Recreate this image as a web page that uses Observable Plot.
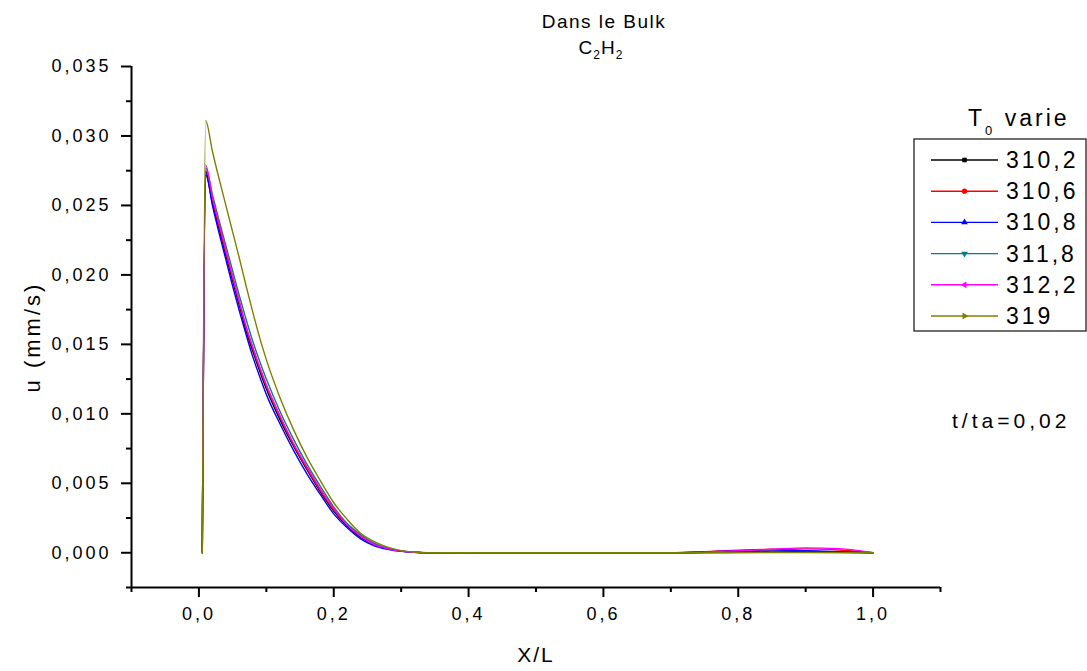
<!DOCTYPE html>
<html><head><meta charset="utf-8">
<script src="https://cdn.jsdelivr.net/npm/d3@7"></script>
<script src="https://cdn.jsdelivr.net/npm/@observablehq/plot@0.6"></script>
<style>
body{margin:0;background:#fff;}
svg{display:block;font-family:"Liberation Sans",Arial,sans-serif;}
</style>
</head><body><div id="chart"></div>
<script>
// ---- data ----
const seriesNames = ["310,2", "310,6", "310,8", "311,8", "312,2", "319"];
const seriesColors = ["#000000", "#ff0000", "#0000ff", "#008080", "#ff00ff", "#808000"];
const seriesSymbols = ["square", "circle", "up", "down", "left", "right"];

const xValues = [0.0050, 0.0100, 0.02, 0.03, 0.04, 0.05, 0.06, 0.07, 0.08, 0.09, 0.10, 0.12, 0.14, 0.16, 0.18, 0.20, 0.22, 0.24, 0.26, 0.28, 0.30, 0.32, 0.34, 0.40, 0.50, 0.60, 0.70, 0.75, 0.80, 0.85, 0.90, 0.95, 1.00];

const u310_2 = [0, 0.0272, 0.0252, 0.0233, 0.0214, 0.0196, 0.0178, 0.0160, 0.0145, 0.0131, 0.0118, 0.0096, 0.0077, 0.0060, 0.0044, 0.0030, 0.0019, 0.0011, 0.0006, 0.0003, 0.00012, 0.00004, 0, 0, 0, 0, 0, 0.00003, 0.00008, 0.00012, 0.00010, 0.00006, 0];
const u310_6 = [0, 0.0275, 0.0254, 0.0235, 0.0216, 0.0198, 0.0180, 0.0162, 0.0147, 0.0133, 0.0120, 0.0098, 0.0078, 0.0061, 0.0045, 0.0031, 0.0020, 0.0012, 0.0006, 0.0003, 0.00012, 0.00004, 0, 0, 0, 0, 0, 0.00008, 0.00018, 0.00025, 0.00028, 0.00020, 0];
const u310_8 = [0, 0.0274, 0.0250, 0.0230, 0.0211, 0.0192, 0.0174, 0.0157, 0.0141, 0.0127, 0.0114, 0.0093, 0.0074, 0.0057, 0.0042, 0.0028, 0.0018, 0.0010, 0.0005, 0.00025, 0.0001, 0.00003, 0, 0, 0, 0, 0, 0.00006, 0.00015, 0.00022, 0.00015, 0.00008, 0];
const u311_8 = [0, 0.0277, 0.0258, 0.0239, 0.0221, 0.0203, 0.0185, 0.0168, 0.0152, 0.0138, 0.0125, 0.0102, 0.0082, 0.0064, 0.0048, 0.0033, 0.0021, 0.0013, 0.0007, 0.00035, 0.00014, 0.00005, 0, 0, 0, 0, 0, 0, 0.00002, 0.00003, 0.00003, 0.00002, 0];
const u312_2 = [0, 0.0279, 0.0256, 0.0237, 0.0218, 0.0199, 0.0181, 0.0163, 0.0148, 0.0134, 0.0121, 0.0099, 0.0079, 0.0062, 0.0046, 0.0032, 0.0020, 0.0012, 0.0006, 0.0003, 0.00012, 0.00004, 0, 0, 0, 0, 0, 0.00005, 0.00015, 0.00025, 0.00035, 0.00030, 0];
const u319 = [0, 0.0311, 0.0289, 0.0269, 0.0250, 0.0231, 0.0212, 0.0192, 0.0173, 0.0155, 0.0139, 0.0112, 0.0089, 0.0069, 0.0052, 0.0036, 0.0024, 0.0014, 0.0008, 0.0004, 0.00015, 0.00005, 0.00001, 0, 0, 0, 0, 0, 0.00001, 0.00002, 0.00002, 0.00001, 0];
const seriesValues = [u310_2, u310_6, u310_8, u311_8, u312_2, u319];

const yTicks = [0, 0.005, 0.010, 0.015, 0.020, 0.025, 0.030, 0.035];
const yMinorTicks = [-0.0025, 0.0025, 0.0075, 0.0125, 0.0175, 0.0225, 0.0275, 0.0325];
const xTicks = [0, 0.2, 0.4, 0.6, 0.8, 1.0];
const xMinorTicks = [-0.1, 0.1, 0.3, 0.5, 0.7, 0.9, 1.1];
const xDomain = [-0.1, 1.1];
const yDomain = [-0.0025, 0.035];

// ---- table ----
const rows = [];
seriesNames.forEach((name, i) => {
  xValues.forEach((x, j) => rows.push({series: name, x, u: seriesValues[i][j]}));
});

const comma = (d, n) => d.toFixed(n).replace(".", ",");
const FONT = '"Liberation Sans", Arial, sans-serif';

const chart = Plot.plot({
  width: 1087, height: 671,
  marginLeft: 131, marginRight: 147, marginTop: 66, marginBottom: 84,
  style: {fontFamily: FONT, fontSize: "18px", color: "#000", background: "#fff", overflow: "visible"},
  x: {domain: xDomain},
  y: {domain: yDomain},
  color: {domain: seriesNames, range: seriesColors},
  marks: [
    Plot.axisY(yTicks, {tickSize: 10, tickPadding: 10, tickFormat: d => comma(d, 3), label: null, strokeWidth: 2, fontSize: 18}),
    Plot.axisY(yMinorTicks, {tickSize: 5, text: null, label: null, strokeWidth: 2}),
    Plot.axisX(xTicks, {tickSize: 10, tickPadding: 10, tickFormat: d => comma(d, 1), label: null, strokeWidth: 2, fontSize: 18}),
    Plot.axisX(xMinorTicks, {tickSize: 5, text: null, label: null, strokeWidth: 2}),
    Plot.ruleX([xDomain[0]], {strokeWidth: 2}),
    Plot.ruleY([yDomain[0]], {strokeWidth: 2}),
    Plot.line(rows, {x: "x", y: "u", z: "series", stroke: "series", curve: "monotone-x", strokeWidth: 1.4})
  ]
});
document.getElementById("chart").appendChild(chart);

const svg = d3.select(chart);
svg.selectAll('g[aria-label="y-axis tick label"] text, g[aria-label="x-axis tick label"] text').style("letter-spacing", "3px");

// titles
svg.append("text").attr("x", 604).attr("y", 28).attr("text-anchor", "middle")
  .style("font-size", "19px").style("letter-spacing", "1.5px").text("Dans le Bulk");
const t2 = svg.append("text").attr("x", 601).attr("y", 54).attr("text-anchor", "middle")
  .style("font-size", "19px").style("letter-spacing", "1px");
t2.append("tspan").text("C");
t2.append("tspan").attr("dy", 5).style("font-size", "12px").text("2");
t2.append("tspan").attr("dy", -5).text("H");
t2.append("tspan").attr("dy", 5).style("font-size", "12px").text("2");

// axis labels
svg.append("text").attr("transform", "translate(40,337) rotate(-90)").attr("text-anchor", "middle")
  .style("font-size", "22px").style("letter-spacing", "3px").text("u (mm/s)");
svg.append("text").attr("x", 536).attr("y", 662).attr("text-anchor", "middle")
  .style("font-size", "21px").style("letter-spacing", "2px").text("X/L");

// legend
const lg = svg.append("g").attr("text-anchor", "start");
const lt = lg.append("text").attr("x", 968).attr("y", 126).attr("text-anchor", "start").style("font-size", "23px").style("letter-spacing", "3px");
lt.append("tspan").text("T");
lt.append("tspan").attr("dy", 9).style("font-size", "13px").text("0");
lt.append("tspan").attr("dy", -9).text(" varie");
lg.append("rect").attr("x", 914).attr("y", 139).attr("width", 172).attr("height", 192)
  .attr("fill", "none").attr("stroke", "#222").attr("stroke-width", 1.3);
const symRot = {square: 0, circle: 0, up: 0, down: 180, left: -90, right: 90};
seriesNames.forEach((name, i) => {
  const yy = 160 + i * 31.2;
  lg.append("line").attr("x1", 931).attr("x2", 998).attr("y1", yy).attr("y2", yy)
    .attr("stroke", seriesColors[i]).attr("stroke-width", 1.4);
  const s = seriesSymbols[i];
  const type = s === "square" ? d3.symbolSquare : s === "circle" ? d3.symbolCircle : d3.symbolTriangle;
  lg.append("path").attr("d", d3.symbol(type, s === "circle" ? 22 : 20)())
    .attr("transform", `translate(964.5,${yy}) rotate(${symRot[s]})`).attr("fill", seriesColors[i]);
  lg.append("text").attr("x", 1006).attr("y", yy + 8).attr("text-anchor", "start")
    .style("font-size", "23px").style("letter-spacing", "3px").text(name);
});
svg.append("text").attr("x", 952).attr("y", 428).attr("text-anchor", "start")
  .style("font-size", "21px").style("letter-spacing", "4px").text("t/ta=0,02");
</script>
</body></html>
